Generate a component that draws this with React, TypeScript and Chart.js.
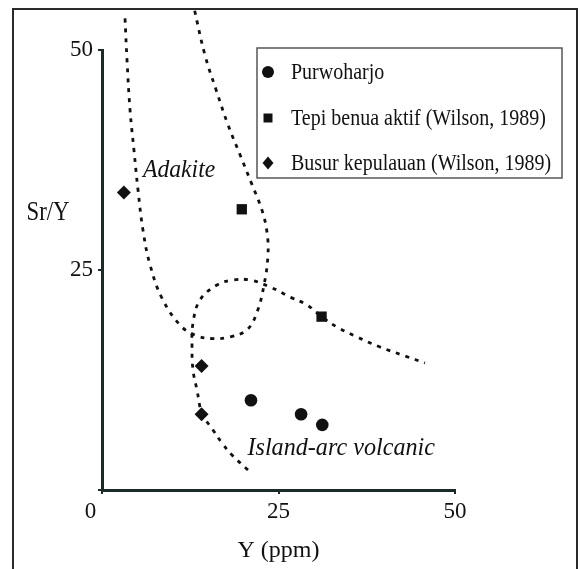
import React, { useEffect, useRef } from 'react';
import { Chart, registerables } from 'chart.js';

Chart.register(...registerables);

// Data (x = Y ppm, y = Sr/Y)
const purwoharjoYppm = [21.1, 28.2, 31.2];
const purwoharjoSrY = [10.2, 8.6, 7.4];

const tepiBenuaYppm = [19.8, 31.1];
const tepiBenuaSrY = [31.9, 19.7];

const busurYppm = [3.1, 14.1, 14.1];
const busurSrY = [33.8, 14.1, 8.6];

// Field boundaries
const adakiteBoundaryYppm = [3.26, 3.54, 3.97, 4.53, 5.1, 5.81, 6.8, 8.5, 11.05, 13.17, 15.72, 18.13, 20.54, 21.95, 22.95, 23.51, 23.37, 22.66, 21.25, 19.55, 17.85, 16.15, 14.59, 13.03];
const adakiteBoundarySrY = [53.6, 48.9, 43.2, 38.6, 34.1, 29.5, 25.6, 21.8, 18.75, 17.6, 17.2, 17.4, 18.2, 20.2, 23.3, 26.7, 29.3, 31.8, 34.7, 38.1, 41.5, 45.5, 49.4, 54.8];

const islandArcBoundaryYppm = [20.68, 18.41, 17.0, 15.72, 14.16, 13.46, 12.89, 12.75, 12.89, 13.88, 16.29, 18.56, 20.96, 23.8, 26.63, 29.04, 31.16, 33.29, 36.12, 39.38, 42.92, 45.75];
const islandArcBoundarySrY = [2.27, 3.98, 5.34, 6.82, 8.75, 11.36, 13.64, 16.25, 18.98, 21.59, 23.3, 23.86, 23.86, 23.07, 21.93, 21.02, 19.66, 18.52, 17.39, 16.25, 15.23, 14.43];

const xTicks = [0, 25, 50];
const yTicks = [0, 25, 50];

const legendLabels = ['Purwoharjo', 'Tepi benua aktif (Wilson, 1989)', 'Busur kepulauan (Wilson, 1989)'];
const legendStyles = ['circle', 'rect', 'rectRot'];
const fieldLabels = ['Adakite', 'Island-arc volcanic'];
const xTitle = 'Y (ppm)';
const yTitle = 'Sr/Y';

const SERIF = '"Liberation Serif", "Times New Roman", serif';
const INK = '#111';
const AXIS = '#1c2a2a';

const zip = (xs: number[], ys: number[]) => xs.map((x, i) => ({ x, y: ys[i] }));

function drawMarker(ctx: CanvasRenderingContext2D, style: string, x: number, y: number) {
  ctx.save();
  ctx.fillStyle = INK;
  ctx.beginPath();
  if (style === 'circle') {
    ctx.arc(x, y, 6, 0, Math.PI * 2);
  } else if (style === 'rect') {
    ctx.rect(x - 4.5, y - 4.5, 9, 9);
  } else {
    ctx.moveTo(x, y - 6.5);
    ctx.lineTo(x + 5.5, y);
    ctx.lineTo(x, y + 6.5);
    ctx.lineTo(x - 5.5, y);
    ctx.closePath();
  }
  ctx.fill();
  ctx.restore();
}

function stretchedText(ctx: CanvasRenderingContext2D, text: string, x: number, y: number, sx: number, sy: number) {
  ctx.save();
  ctx.translate(x, y);
  ctx.scale(sx, sy);
  ctx.fillText(text, 0, 0);
  ctx.restore();
}

const overlayPlugin = {
  id: 'overlay',
  beforeDraw(chart: any) {
    const ctx = chart.ctx as CanvasRenderingContext2D;
    ctx.save();
    ctx.fillStyle = '#fff';
    ctx.fillRect(0, 0, chart.width, chart.height);
    ctx.strokeStyle = '#2a2a2a';
    ctx.lineWidth = 2;
    ctx.beginPath();
    ctx.moveTo(13, chart.height + 2);
    ctx.lineTo(13, 9);
    ctx.lineTo(577, 9);
    ctx.lineTo(577, chart.height + 2);
    ctx.stroke();
    ctx.restore();
  },
  afterDraw(chart: any) {
    const ctx = chart.ctx as CanvasRenderingContext2D;
    const xs = chart.scales.x;
    const ys = chart.scales.y;
    ctx.save();
    // y-axis title (horizontal)
    ctx.fillStyle = INK;
    ctx.font = `24px ${SERIF}`;
    ctx.textAlign = 'center';
    ctx.textBaseline = 'middle';
    stretchedText(ctx, yTitle, 48, 213, 0.95, 1.12);

    // field labels
    ctx.font = `italic 23px ${SERIF}`;
    ctx.textAlign = 'left';
    stretchedText(ctx, fieldLabels[0], xs.getPixelForValue(5.8), ys.getPixelForValue(36.3), 1.03, 1.12);
    stretchedText(ctx, fieldLabels[1], xs.getPixelForValue(20.6), ys.getPixelForValue(4.8), 1.05, 1.12);

    // legend box
    const bx = 257, by = 48, bw = 305, bh = 130;
    ctx.fillStyle = '#fff';
    ctx.fillRect(bx, by, bw, bh);
    ctx.strokeStyle = '#555';
    ctx.lineWidth = 1.5;
    ctx.strokeRect(bx, by, bw, bh);
    ctx.fillStyle = INK;
    ctx.font = `20px ${SERIF}`;
    ctx.textBaseline = 'middle';
    const rows = [72, 118, 163];
    legendLabels.forEach((lab, i) => {
      drawMarker(ctx, legendStyles[i], 268, rows[i]);
      ctx.fillStyle = INK;
      stretchedText(ctx, lab, 291, rows[i] + 1, 1, 1.12);
    });
    ctx.restore();
  },
};

export default function App() {
  const ref = useRef<HTMLCanvasElement>(null);
  useEffect(() => {
    document.body.style.margin = '0';
    const canvas = ref.current!;
    const dashed = {
      showLine: true,
      pointRadius: 0,
      borderColor: INK,
      borderWidth: 2.8,
      borderDash: [4, 6],
      tension: 0.4,
      clip: false as any,
      fill: false,
    };
    const chart = new Chart(canvas, {
      type: 'scatter',
      data: {
        datasets: [
          { label: 'adakite', data: zip(adakiteBoundaryYppm, adakiteBoundarySrY), ...dashed },
          { label: 'island-arc', data: zip(islandArcBoundaryYppm, islandArcBoundarySrY), ...dashed },
          {
            label: legendLabels[0],
            data: zip(purwoharjoYppm, purwoharjoSrY),
            pointStyle: 'circle',
            pointRadius: 6.3,
            backgroundColor: INK,
            borderColor: INK,
            borderWidth: 0,
          },
          {
            label: legendLabels[1],
            data: zip(tepiBenuaYppm, tepiBenuaSrY),
            pointStyle: 'rect',
            pointRadius: 7.3,
            backgroundColor: INK,
            borderColor: INK,
            borderWidth: 0,
          },
          {
            label: legendLabels[2],
            data: zip(busurYppm, busurSrY),
            pointStyle: 'rectRot',
            pointRadius: 7,
            backgroundColor: INK,
            borderColor: INK,
            borderWidth: 0,
          },
        ],
      },
      options: {
        responsive: false,
        animation: false,
        events: [],
        layout: { padding: { top: 50, right: 125, left: 0, bottom: 0 } },
        plugins: { legend: { display: false }, tooltip: { enabled: false } },
        scales: {
          x: {
            type: 'linear',
            min: 0,
            max: 50,
            afterBuildTicks: (s: any) => { s.ticks = xTicks.map((v) => ({ value: v })); },
            afterFit: (s: any) => { s.height = 79; },
            grid: { display: true, drawOnChartArea: false, drawTicks: true, tickLength: 4, color: AXIS, lineWidth: 2 },
            border: { display: true, color: AXIS, width: 3 },
            ticks: {
              padding: 4,
              color: INK,
              font: { family: SERIF, size: 23 },
              maxRotation: 0,
              callback: (v: any) => (Number(v) === 0 ? '0\u2002\u2002' : String(v)),
            },
            title: { display: true, text: xTitle, color: INK, font: { family: SERIF, size: 24 }, padding: { top: 0, bottom: 4 } },
          },
          y: {
            type: 'linear',
            min: 0,
            max: 50,
            afterBuildTicks: (s: any) => { s.ticks = yTicks.map((v) => ({ value: v })); },
            afterFit: (s: any) => { s.width = 102; },
            grid: { display: true, drawOnChartArea: false, drawTicks: true, tickLength: 4, color: AXIS, lineWidth: 2 },
            border: { display: true, color: AXIS, width: 3 },
            ticks: {
              padding: 5,
              color: INK,
              font: { family: SERIF, size: 23 },
              callback: (v: any) => (Number(v) === 0 ? '' : String(v)),
            },
          },
        },
      },
      plugins: [overlayPlugin],
    });
    return () => chart.destroy();
  }, []);
  return (
    <div style={{ width: 580, height: 569 }}>
      <canvas ref={ref} width={580} height={569} style={{ display: 'block' }} />
    </div>
  );
}
